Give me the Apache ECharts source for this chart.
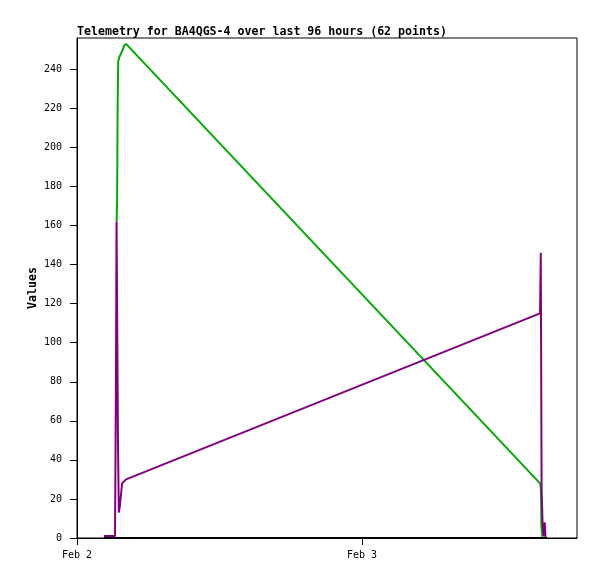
<!DOCTYPE html>
<html>
<head>
<meta charset="utf-8">
<script src="https://cdn.jsdelivr.net/npm/echarts@6/dist/echarts.min.js"></script>
<style>html,body{margin:0;padding:0;background:#fff}#c{width:597px;height:579px}</style>
</head>
<body>
<div id="c"></div>
<script>
// hours since Feb 2 00:00
const greenTimes  = [3.34, 3.38, 3.42, 3.47, 3.55, 3.70, 3.85, 3.96, 4.13, 38.99, 39.05, 39.08, 39.10, 39.14, 39.20];
const greenValues = [162, 175, 220, 244, 246, 248, 250, 252, 253, 28, 26, 18, 6, 4, 0];

const purpleTimes  = [2.27, 2.60, 2.78, 2.86, 2.95, 3.20, 3.28, 3.33, 3.45, 3.52, 3.60, 3.70, 3.80, 3.90, 4.13, 38.99, 39.05, 39.12, 39.20, 39.28, 39.38, 39.45];
const purpleValues = [1, 1, 1, 0, 1, 1, 80, 162, 50, 13, 16, 22, 28, 29, 30, 115, 146, 25, 8, 1, 8, 0];

const blackTimes  = [2.27, 3.30, 4.13, 38.99, 39.58];
const blackValues = [0, 0, 0, 0, 0];

const xTickValues = [0, 24];
const xTickLabels = ['Feb 2', 'Feb 3'];
const yTickValues = [0, 20, 40, 60, 80, 100, 120, 140, 160, 180, 200, 220, 240];

const titleText = 'Telemetry for BA4QGS-4 over last 96 hours (62 points)';
const yName = 'Values';

function pairs(t, v) { return t.map((x, i) => [x, v[i]]); }

const mono = 'DejaVu Sans Mono';
const chart = echarts.init(document.getElementById('c'), null, { renderer: 'canvas' });
chart.setOption({
  animation: false,
  backgroundColor: '#ffffff',
  title: {
    text: titleText,
    left: 77, top: 26, padding: 0,
    textStyle: { fontFamily: mono, fontWeight: 'bold', fontSize: 11.6, color: '#000' }
  },
  grid: {
    left: 77, right: 20, top: 38, bottom: 41,
    show: true, borderColor: '#000', borderWidth: 1, backgroundColor: 'transparent'
  },
  xAxis: {
    type: 'value', min: 0, max: 42.1,
    axisLine: { show: true, onZero: false, lineStyle: { color: '#000', width: 1 } },
    axisTick: { show: true, inside: false, length: 7, customValues: xTickValues, lineStyle: { color: '#000' } },
    axisLabel: {
      customValues: xTickValues, margin: 12,
      fontFamily: mono, fontSize: 10, color: '#000',
      formatter: v => xTickLabels[xTickValues.indexOf(v)] || ''
    },
    splitLine: { show: false }
  },
  yAxis: {
    type: 'value', min: 0, max: 256,
    name: yName, nameLocation: 'middle', nameGap: 38, nameRotate: 90, nameMoveOverlap: false,
    nameTextStyle: { fontFamily: mono, fontWeight: 'bold', fontSize: 11.6, color: '#000' },
    axisLine: { show: true, lineStyle: { color: '#000', width: 1 } },
    axisTick: { show: true, inside: false, length: 7, customValues: yTickValues, lineStyle: { color: '#000' } },
    axisLabel: { customValues: yTickValues, margin: 15, fontFamily: mono, fontSize: 10, color: '#000' },
    splitLine: { show: false }
  },
  series: [
    { type: 'line', data: pairs(greenTimes, greenValues), showSymbol: false, symbol: 'none',
      lineStyle: { color: '#00aa00', width: 2 }, itemStyle: { color: '#00aa00' } },
    { type: 'line', data: pairs(purpleTimes, purpleValues), showSymbol: false, symbol: 'none',
      lineStyle: { color: '#800080', width: 2 }, itemStyle: { color: '#800080' } },
    { type: 'line', data: pairs(blackTimes, blackValues), showSymbol: false, symbol: 'none',
      lineStyle: { color: '#000000', width: 2 }, itemStyle: { color: '#000' } }
  ]
});
</script>
</body>
</html>
